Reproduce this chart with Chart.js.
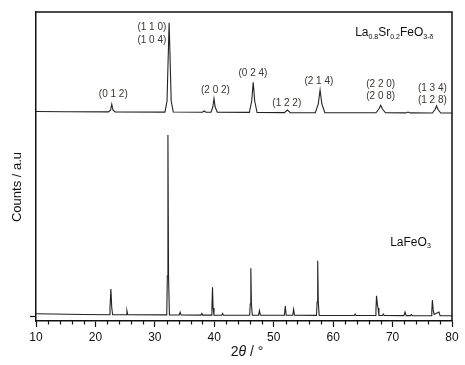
<!DOCTYPE html>
<html>
<head>
<meta charset="utf-8">
<script src="https://cdn.jsdelivr.net/npm/chart.js@4.4.1/dist/chart.umd.min.js"></script>
<style>
  html, body { margin: 0; padding: 0; background: #fff; }
  #wrap { width: 465px; height: 365px; }
</style>
</head>
<body>
<div id="wrap"><canvas id="xrd-chart"></canvas></div>
<script>
// La0.8Sr0.2FeO3-d pattern (offset upwards in the figure)
const lsfTheta = [10, 15, 22.2, 22.55, 22.75, 22.95, 23.3, 31.7, 32.05, 32.25, 32.4, 32.55, 32.75, 33.1,
  38.0, 38.3, 38.6, 39.45, 39.75, 39.95, 40.15, 40.5, 45.9, 46.3, 46.55, 46.8, 47.2,
  51.8, 52.3, 52.8, 57.0, 57.5, 57.8, 58.1, 58.6, 67.2, 67.7, 68.0, 68.3, 68.8,
  72.2, 72.6, 73.0, 76.7, 77.15, 77.4, 77.65, 78.1, 80];
const lsfCounts = [204.5, 204.3, 204.1, 206, 211.7, 206, 204, 203.9, 215, 260, 293.3, 260, 215, 204,
  203.8, 205, 203.8, 203.7, 209, 217.3, 209, 203.7, 203.6, 215, 233.7, 215, 203.5,
  203.4, 206, 203.4, 203.3, 212, 226, 212, 203.3, 203.2, 207, 210.7, 207, 203.2,
  203.1, 204, 203.1, 203, 206.5, 210, 206.5, 203, 203];

// LaFeO3 pattern
const lfoTheta = [10, 18, 22.3, 22.45, 22.6, 22.75, 22.9, 25.15, 25.3, 25.45,
  32.0, 32.1, 32.2, 32.3, 32.45, 34.1, 34.25, 34.4, 37.75, 37.9, 38.05,
  39.5, 39.6, 39.7, 39.8, 39.95, 41.25, 41.4, 41.55, 45.95, 46.05, 46.15, 46.25, 46.4,
  47.45, 47.6, 47.75, 51.8, 51.95, 52.1, 53.2, 53.35, 53.5, 57.2, 57.3, 57.4, 57.5, 57.65,
  63.55, 63.7, 63.85, 67.1, 67.2, 67.3, 67.45, 67.55, 67.7, 68.3, 68.45, 68.6,
  71.9, 72.1, 72.3, 73.0, 73.15, 73.3, 76.5, 76.6, 76.7, 76.85, 77.0, 77.8, 78.0, 80];
const lfoCounts = [2.2, 1.5, 1.3, 8, 27, 8, 1.3, 1.2, 5.3, 1.2,
  1.1, 40, 181, 40, 1.1, 1, 3.7, 1, 0.9, 2.5, 0.9,
  0.9, 8, 28.7, 8, 0.9, 0.8, 2.5, 0.8, 0.8, 12, 47.7, 12, 0.8,
  0.8, 5.3, 0.8, 0.7, 10, 0.7, 0.7, 6.7, 0.7, 0.6, 14, 55.3, 14, 0.6,
  0.5, 2, 0.5, 0.5, 6, 20.3, 11, 8, 0.5, 0.5, 2, 0.5,
  0.4, 4, 0.4, 0.4, 1.5, 0.4, 0.3, 5, 16, 5, 1.5, 4, 0.3, 0.2];

// Miller index labels above the La0.8Sr0.2FeO3-d reflections
const hklText = ["(1 1 0)", "(1 0 4)", "(0 1 2)", "(2 0 2)", "(0 2 4)", "(1 2 2)", "(2 1 4)",
  "(2 2 0)", "(2 0 8)", "(1 3 4)", "(1 2 8)"];
const hklTheta = [29.5, 29.5, 23.0, 40.2, 46.5, 52.2, 57.6, 68.0, 68.0, 76.7, 76.7];
const hklCounts = [289, 276, 221.7, 225.3, 242.7, 212.7, 234.3, 231.7, 219.3, 227.7, 216];

const xTickLabels = [10, 20, 30, 40, 50, 60, 70, 80];

const toPoints = (xs, ys) => xs.map((x, i) => ({ x: x, y: ys[i] }));

// Draws the frame, minor ticks, axis titles and text labels
const decorations = {
  id: 'decorations',
  afterDraw(chart) {
    const ctx = chart.ctx;
    const area = chart.chartArea;
    const xs = chart.scales.x;
    const ys = chart.scales.y;
    ctx.save();

    // top and right frame lines
    ctx.strokeStyle = '#111';
    ctx.lineWidth = 1.5;
    ctx.beginPath();
    ctx.moveTo(area.left, area.top);
    ctx.lineTo(area.right, area.top);
    ctx.lineTo(area.right, area.bottom);
    ctx.stroke();

    // minor ticks on the 2theta axis
    ctx.lineWidth = 1.2;
    xs.ticks.forEach((t) => {
      if (t.value % 10 !== 0) {
        const px = Math.round(xs.getPixelForValue(t.value)) + 0.5;
        ctx.beginPath();
        ctx.moveTo(px, area.bottom);
        ctx.lineTo(px, area.bottom + 3.5);
        ctx.stroke();
      }
    });

    // y axis title
    ctx.fillStyle = '#111';
    ctx.font = '13px "Liberation Sans", Arial, sans-serif';
    ctx.textAlign = 'center';
    ctx.textBaseline = 'middle';
    ctx.translate(17, 187);
    ctx.rotate(-Math.PI / 2);
    ctx.fillText('Counts / a.u', 0, 0);
    ctx.setTransform(1, 0, 0, 1, 0, 0);

    // x axis title: 2θ / ° with italic theta
    const parts = [['2', ''], ['\u03b8', 'italic '], [' / \u00b0', '']];
    let total = 0;
    parts.forEach((p) => {
      ctx.font = p[1] + '14px "Liberation Sans", Arial, sans-serif';
      total += ctx.measureText(p[0]).width;
    });
    let cx = 247 - total / 2;
    ctx.textAlign = 'left';
    ctx.textBaseline = 'alphabetic';
    parts.forEach((p) => {
      ctx.font = p[1] + '14px "Liberation Sans", Arial, sans-serif';
      ctx.fillText(p[0], cx, 356);
      cx += ctx.measureText(p[0]).width;
    });

    // hkl labels
    ctx.fillStyle = '#3b3430';
    ctx.font = '10px "Liberation Sans", Arial, sans-serif';
    ctx.textAlign = 'center';
    ctx.textBaseline = 'middle';
    hklText.forEach((txt, i) => {
      ctx.fillText(txt, xs.getPixelForValue(hklTheta[i]), ys.getPixelForValue(hklCounts[i]));
    });

    // sample names with subscripts
    const writeFormula = (pieces, theta, counts) => {
      let px = xs.getPixelForValue(theta);
      const py = ys.getPixelForValue(counts);
      ctx.textAlign = 'left';
      ctx.textBaseline = 'middle';
      pieces.forEach((p) => {
        if (p[1]) {
          ctx.font = '7px "Liberation Sans", Arial, sans-serif';
          ctx.fillText(p[0], px, py + 4);
        } else {
          ctx.font = '12px "Liberation Sans", Arial, sans-serif';
          ctx.fillText(p[0], px, py);
        }
        px += ctx.measureText(p[0]).width;
      });
    };
    ctx.fillStyle = '#111';
    writeFormula([['La', false], ['0.8', true], ['Sr', false], ['0.2', true], ['FeO', false], ['3-\u03b4', true]], 63.7, 283);
    writeFormula([['LaFeO', false], ['3', true]], 69.6, 73.5);

    ctx.restore();
  }
};

const ctx = document.getElementById('xrd-chart').getContext('2d');
const xrdChart = new Chart(ctx, {
  type: 'line',
  data: {
    datasets: [
      {
        label: 'La0.8Sr0.2FeO3-d',
        data: toPoints(lsfTheta, lsfCounts),
        borderColor: '#222',
        borderWidth: 1.1,
        pointRadius: 0,
        tension: 0,
      },
      {
        label: 'LaFeO3',
        data: toPoints(lfoTheta, lfoCounts),
        borderColor: '#222',
        borderWidth: 1.1,
        pointRadius: 0,
        tension: 0,
      },
    ],
  },
  options: {
    responsive: true,
    maintainAspectRatio: false,
    animation: false,
    layout: { padding: { left: 0, top: 12, right: 13, bottom: 0 } },
    plugins: {
      legend: { display: false },
      tooltip: { enabled: false },
    },
    scales: {
      x: {
        type: 'linear',
        min: 10,
        max: 80,
        afterFit: (scale) => { scale.height = 44; },
        border: { display: true, color: '#111', width: 1.5 },
        grid: {
          drawOnChartArea: false,
          drawTicks: true,
          tickLength: 6,
          tickWidth: 1.2,
          tickColor: (c) => (c.tick && c.tick.value % 10 === 0 ? '#111' : 'rgba(0,0,0,0)'),
        },
        ticks: {
          stepSize: 2,
          autoSkip: false,
          maxRotation: 0,
          padding: 3,
          color: '#111',
          font: { family: '"Liberation Sans", Arial, sans-serif', size: 12 },
          callback: (v) => (xTickLabels.includes(v) ? v : ''),
        },
      },
      y: {
        type: 'linear',
        min: -5,
        max: 304,
        afterFit: (scale) => { scale.width = 36; },
        afterBuildTicks: (scale) => { scale.ticks = [{ value: 0 }]; },
        border: { display: true, color: '#111', width: 1.5 },
        grid: {
          drawOnChartArea: false,
          drawTicks: true,
          tickLength: 6,
          tickWidth: 1.2,
          tickColor: '#111',
        },
        ticks: { display: false },
      },
    },
  },
  plugins: [decorations],
});
</script>
</body>
</html>
